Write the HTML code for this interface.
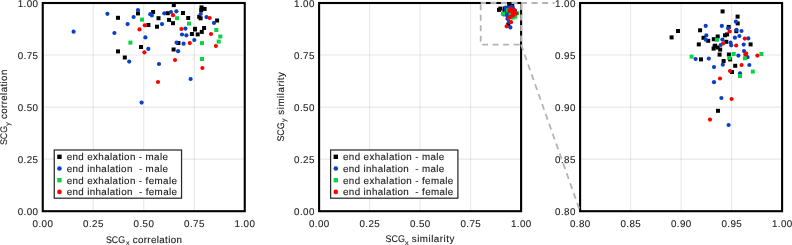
<!DOCTYPE html><html><head><meta charset="utf-8"><style>html,body{margin:0;padding:0;background:#fff;width:792px;height:245px;overflow:hidden}svg{display:block;will-change:transform}text{text-rendering:geometricPrecision;stroke:#1a1a1a;stroke-width:0.12px;font-family:"Liberation Sans",sans-serif;fill:#1a1a1a}</style></head><body>
<svg width="792" height="245" viewBox="0 0 792 245">
<line x1="93.25" y1="3.0" x2="93.25" y2="211.2" stroke="#000" stroke-opacity="0.095" stroke-width="1.1"/>
<line x1="42.75" y1="55.05" x2="244.75" y2="55.05" stroke="#000" stroke-opacity="0.095" stroke-width="1.1"/>
<line x1="143.75" y1="3.0" x2="143.75" y2="211.2" stroke="#000" stroke-opacity="0.095" stroke-width="1.1"/>
<line x1="42.75" y1="107.10" x2="244.75" y2="107.10" stroke="#000" stroke-opacity="0.095" stroke-width="1.1"/>
<line x1="194.25" y1="3.0" x2="194.25" y2="211.2" stroke="#000" stroke-opacity="0.095" stroke-width="1.1"/>
<line x1="42.75" y1="159.15" x2="244.75" y2="159.15" stroke="#000" stroke-opacity="0.095" stroke-width="1.1"/>
<line x1="369.60" y1="3.0" x2="369.60" y2="211.2" stroke="#000" stroke-opacity="0.095" stroke-width="1.1"/>
<line x1="319.1" y1="55.05" x2="521.1" y2="55.05" stroke="#000" stroke-opacity="0.095" stroke-width="1.1"/>
<line x1="420.10" y1="3.0" x2="420.10" y2="211.2" stroke="#000" stroke-opacity="0.095" stroke-width="1.1"/>
<line x1="319.1" y1="107.10" x2="521.1" y2="107.10" stroke="#000" stroke-opacity="0.095" stroke-width="1.1"/>
<line x1="470.60" y1="3.0" x2="470.60" y2="211.2" stroke="#000" stroke-opacity="0.095" stroke-width="1.1"/>
<line x1="319.1" y1="159.15" x2="521.1" y2="159.15" stroke="#000" stroke-opacity="0.095" stroke-width="1.1"/>
<line x1="630.60" y1="3.0" x2="630.60" y2="211.2" stroke="#000" stroke-opacity="0.095" stroke-width="1.1"/>
<line x1="580.1" y1="55.05" x2="782.1" y2="55.05" stroke="#000" stroke-opacity="0.095" stroke-width="1.1"/>
<line x1="681.10" y1="3.0" x2="681.10" y2="211.2" stroke="#000" stroke-opacity="0.095" stroke-width="1.1"/>
<line x1="580.1" y1="107.10" x2="782.1" y2="107.10" stroke="#000" stroke-opacity="0.095" stroke-width="1.1"/>
<line x1="731.60" y1="3.0" x2="731.60" y2="211.2" stroke="#000" stroke-opacity="0.095" stroke-width="1.1"/>
<line x1="580.1" y1="159.15" x2="782.1" y2="159.15" stroke="#000" stroke-opacity="0.095" stroke-width="1.1"/>
<rect x="116.00" y="15.80" width="4.0" height="4.0" fill="#000000"/>
<rect x="136.00" y="11.40" width="4.0" height="4.0" fill="#000000"/>
<rect x="139.00" y="45.00" width="4.0" height="4.0" fill="#000000"/>
<rect x="146.40" y="23.00" width="4.0" height="4.0" fill="#000000"/>
<rect x="151.10" y="10.00" width="4.0" height="4.0" fill="#000000"/>
<rect x="156.50" y="16.20" width="4.0" height="4.0" fill="#000000"/>
<rect x="155.00" y="24.70" width="4.0" height="4.0" fill="#000000"/>
<rect x="171.80" y="3.10" width="4.0" height="4.0" fill="#000000"/>
<rect x="165.80" y="11.20" width="4.0" height="4.0" fill="#000000"/>
<rect x="167.00" y="17.90" width="4.0" height="4.0" fill="#000000"/>
<rect x="171.00" y="21.20" width="4.0" height="4.0" fill="#000000"/>
<rect x="181.00" y="11.00" width="4.0" height="4.0" fill="#000000"/>
<rect x="186.20" y="16.00" width="4.0" height="4.0" fill="#000000"/>
<rect x="193.00" y="27.50" width="4.0" height="4.0" fill="#000000"/>
<rect x="189.90" y="32.00" width="4.0" height="4.0" fill="#000000"/>
<rect x="176.40" y="41.00" width="4.0" height="4.0" fill="#000000"/>
<rect x="195.70" y="32.40" width="4.0" height="4.0" fill="#000000"/>
<rect x="199.80" y="29.90" width="4.0" height="4.0" fill="#000000"/>
<rect x="202.10" y="26.00" width="4.0" height="4.0" fill="#000000"/>
<rect x="199.50" y="5.40" width="4.0" height="4.0" fill="#000000"/>
<rect x="202.60" y="6.90" width="4.0" height="4.0" fill="#000000"/>
<rect x="199.20" y="8.40" width="4.0" height="4.0" fill="#000000"/>
<rect x="197.20" y="14.80" width="4.0" height="4.0" fill="#000000"/>
<rect x="198.60" y="16.30" width="4.0" height="4.0" fill="#000000"/>
<rect x="215.10" y="18.50" width="4.0" height="4.0" fill="#000000"/>
<rect x="116.00" y="49.40" width="4.0" height="4.0" fill="#000000"/>
<rect x="122.80" y="55.50" width="4.0" height="4.0" fill="#000000"/>
<rect x="171.60" y="47.50" width="4.0" height="4.0" fill="#000000"/>
<rect x="193.00" y="26.80" width="4.0" height="4.0" fill="#000000"/>
<circle cx="73.60" cy="31.70" r="2.1" fill="#0a40c6"/>
<circle cx="107.40" cy="13.80" r="2.1" fill="#0a40c6"/>
<circle cx="138.00" cy="10.00" r="2.1" fill="#0a40c6"/>
<circle cx="133.60" cy="17.00" r="2.1" fill="#0a40c6"/>
<circle cx="127.60" cy="24.10" r="2.1" fill="#0a40c6"/>
<circle cx="114.40" cy="33.00" r="2.1" fill="#0a40c6"/>
<circle cx="148.30" cy="48.90" r="2.1" fill="#0a40c6"/>
<circle cx="150.30" cy="14.20" r="2.1" fill="#0a40c6"/>
<circle cx="151.90" cy="15.40" r="2.1" fill="#0a40c6"/>
<circle cx="162.00" cy="24.10" r="2.1" fill="#0a40c6"/>
<circle cx="145.40" cy="37.40" r="2.1" fill="#0a40c6"/>
<circle cx="164.30" cy="13.30" r="2.1" fill="#0a40c6"/>
<circle cx="171.00" cy="12.00" r="2.1" fill="#0a40c6"/>
<circle cx="176.40" cy="11.30" r="2.1" fill="#0a40c6"/>
<circle cx="185.40" cy="28.60" r="2.1" fill="#0a40c6"/>
<circle cx="182.00" cy="34.50" r="2.1" fill="#0a40c6"/>
<circle cx="186.40" cy="35.30" r="2.1" fill="#0a40c6"/>
<circle cx="176.60" cy="42.60" r="2.1" fill="#0a40c6"/>
<circle cx="183.60" cy="43.70" r="2.1" fill="#0a40c6"/>
<circle cx="194.30" cy="40.00" r="2.1" fill="#0a40c6"/>
<circle cx="200.70" cy="14.00" r="2.1" fill="#0a40c6"/>
<circle cx="206.50" cy="17.10" r="2.1" fill="#0a40c6"/>
<circle cx="214.00" cy="22.90" r="2.1" fill="#0a40c6"/>
<circle cx="129.20" cy="61.60" r="2.1" fill="#0a40c6"/>
<circle cx="159.00" cy="64.00" r="2.1" fill="#0a40c6"/>
<circle cx="178.10" cy="51.20" r="2.1" fill="#0a40c6"/>
<circle cx="190.60" cy="79.00" r="2.1" fill="#0a40c6"/>
<circle cx="141.60" cy="102.60" r="2.1" fill="#0a40c6"/>
<rect x="140.00" y="17.60" width="4.0" height="4.0" fill="#06d444"/>
<rect x="128.40" y="40.60" width="4.0" height="4.0" fill="#06d444"/>
<rect x="175.10" y="16.20" width="4.0" height="4.0" fill="#06d444"/>
<rect x="187.00" y="21.60" width="4.0" height="4.0" fill="#06d444"/>
<rect x="200.00" y="41.10" width="4.0" height="4.0" fill="#06d444"/>
<rect x="214.30" y="28.00" width="4.0" height="4.0" fill="#06d444"/>
<rect x="218.30" y="34.50" width="4.0" height="4.0" fill="#06d444"/>
<rect x="216.70" y="39.60" width="4.0" height="4.0" fill="#06d444"/>
<rect x="200.00" y="57.00" width="4.0" height="4.0" fill="#06d444"/>
<circle cx="139.50" cy="29.40" r="2.1" fill="#fc0000"/>
<circle cx="144.80" cy="25.30" r="2.1" fill="#fc0000"/>
<circle cx="173.00" cy="15.20" r="2.1" fill="#fc0000"/>
<circle cx="181.40" cy="29.00" r="2.1" fill="#fc0000"/>
<circle cx="189.80" cy="43.10" r="2.1" fill="#fc0000"/>
<circle cx="209.60" cy="18.00" r="2.1" fill="#fc0000"/>
<circle cx="211.00" cy="34.00" r="2.1" fill="#fc0000"/>
<circle cx="215.90" cy="46.00" r="2.1" fill="#fc0000"/>
<circle cx="144.40" cy="52.30" r="2.1" fill="#fc0000"/>
<circle cx="158.00" cy="82.00" r="2.1" fill="#fc0000"/>
<circle cx="175.00" cy="60.00" r="2.1" fill="#fc0000"/>
<circle cx="202.40" cy="68.00" r="2.1" fill="#fc0000"/>
<rect x="497.00" y="7.88" width="4.0" height="4.0" fill="#000000"/>
<rect x="498.28" y="6.60" width="4.0" height="4.0" fill="#000000"/>
<rect x="502.70" y="6.46" width="4.0" height="4.0" fill="#000000"/>
<rect x="503.38" y="7.96" width="4.0" height="4.0" fill="#000000"/>
<rect x="504.32" y="8.56" width="4.0" height="4.0" fill="#000000"/>
<rect x="502.44" y="9.28" width="4.0" height="4.0" fill="#000000"/>
<rect x="507.20" y="2.68" width="4.0" height="4.0" fill="#000000"/>
<rect x="510.20" y="3.72" width="4.0" height="4.0" fill="#000000"/>
<rect x="510.22" y="5.08" width="4.0" height="4.0" fill="#000000"/>
<rect x="508.42" y="5.78" width="4.0" height="4.0" fill="#000000"/>
<rect x="507.68" y="7.46" width="4.0" height="4.0" fill="#000000"/>
<rect x="508.10" y="7.28" width="4.0" height="4.0" fill="#000000"/>
<rect x="506.22" y="7.70" width="4.0" height="4.0" fill="#000000"/>
<rect x="507.94" y="8.76" width="4.0" height="4.0" fill="#000000"/>
<rect x="512.80" y="9.28" width="4.0" height="4.0" fill="#000000"/>
<rect x="505.72" y="9.54" width="4.0" height="4.0" fill="#000000"/>
<rect x="506.22" y="9.90" width="4.0" height="4.0" fill="#000000"/>
<rect x="505.60" y="9.64" width="4.0" height="4.0" fill="#000000"/>
<rect x="506.72" y="10.32" width="4.0" height="4.0" fill="#000000"/>
<rect x="506.60" y="11.32" width="4.0" height="4.0" fill="#000000"/>
<rect x="508.46" y="11.30" width="4.0" height="4.0" fill="#000000"/>
<rect x="508.70" y="12.28" width="4.0" height="4.0" fill="#000000"/>
<rect x="502.88" y="12.28" width="4.0" height="4.0" fill="#000000"/>
<rect x="507.40" y="12.60" width="4.0" height="4.0" fill="#000000"/>
<rect x="509.72" y="13.56" width="4.0" height="4.0" fill="#000000"/>
<rect x="509.08" y="14.80" width="4.0" height="4.0" fill="#000000"/>
<rect x="506.28" y="22.56" width="4.0" height="4.0" fill="#000000"/>
<rect x="505.44" y="8.24" width="4.0" height="4.0" fill="#000000"/>
<rect x="505.40" y="10.12" width="4.0" height="4.0" fill="#000000"/>
<rect x="509.94" y="6.64" width="4.0" height="4.0" fill="#000000"/>
<circle cx="505.82" cy="7.58" r="2.1" fill="#0a40c6"/>
<circle cx="505.94" cy="9.48" r="2.1" fill="#0a40c6"/>
<circle cx="505.80" cy="10.32" r="2.1" fill="#0a40c6"/>
<circle cx="509.04" cy="7.58" r="2.1" fill="#0a40c6"/>
<circle cx="511.86" cy="6.74" r="2.1" fill="#0a40c6"/>
<circle cx="510.30" cy="8.06" r="2.1" fill="#0a40c6"/>
<circle cx="511.98" cy="8.36" r="2.1" fill="#0a40c6"/>
<circle cx="512.98" cy="8.60" r="2.1" fill="#0a40c6"/>
<circle cx="511.66" cy="9.94" r="2.1" fill="#0a40c6"/>
<circle cx="512.56" cy="9.60" r="2.1" fill="#0a40c6"/>
<circle cx="514.34" cy="10.08" r="2.1" fill="#0a40c6"/>
<circle cx="509.16" cy="10.30" r="2.1" fill="#0a40c6"/>
<circle cx="508.82" cy="11.40" r="2.1" fill="#0a40c6"/>
<circle cx="510.80" cy="10.94" r="2.1" fill="#0a40c6"/>
<circle cx="510.92" cy="11.46" r="2.1" fill="#0a40c6"/>
<circle cx="513.42" cy="11.32" r="2.1" fill="#0a40c6"/>
<circle cx="513.48" cy="12.62" r="2.1" fill="#0a40c6"/>
<circle cx="512.36" cy="13.52" r="2.1" fill="#0a40c6"/>
<circle cx="514.18" cy="13.84" r="2.1" fill="#0a40c6"/>
<circle cx="506.44" cy="14.12" r="2.1" fill="#0a40c6"/>
<circle cx="503.80" cy="14.20" r="2.1" fill="#0a40c6"/>
<circle cx="509.24" cy="15.34" r="2.1" fill="#0a40c6"/>
<circle cx="507.48" cy="15.82" r="2.1" fill="#0a40c6"/>
<circle cx="514.54" cy="15.40" r="2.1" fill="#0a40c6"/>
<circle cx="507.48" cy="18.84" r="2.1" fill="#0a40c6"/>
<circle cx="508.96" cy="22.00" r="2.1" fill="#0a40c6"/>
<circle cx="510.40" cy="27.40" r="2.1" fill="#0a40c6"/>
<circle cx="512.68" cy="17.08" r="2.1" fill="#0a40c6"/>
<rect x="506.06" y="8.36" width="4.0" height="4.0" fill="#06d444"/>
<rect x="509.42" y="11.20" width="4.0" height="4.0" fill="#06d444"/>
<rect x="508.54" y="11.98" width="4.0" height="4.0" fill="#06d444"/>
<rect x="511.66" y="12.06" width="4.0" height="4.0" fill="#06d444"/>
<rect x="501.00" y="11.72" width="4.0" height="4.0" fill="#06d444"/>
<rect x="510.68" y="15.60" width="4.0" height="4.0" fill="#06d444"/>
<rect x="513.24" y="14.72" width="4.0" height="4.0" fill="#06d444"/>
<rect x="514.96" y="11.20" width="4.0" height="4.0" fill="#06d444"/>
<circle cx="510.62" cy="8.70" r="2.1" fill="#fc0000"/>
<circle cx="513.64" cy="10.12" r="2.1" fill="#fc0000"/>
<circle cx="509.30" cy="11.08" r="2.1" fill="#fc0000"/>
<circle cx="511.92" cy="11.50" r="2.1" fill="#fc0000"/>
<circle cx="513.92" cy="13.08" r="2.1" fill="#fc0000"/>
<circle cx="513.74" cy="13.30" r="2.1" fill="#fc0000"/>
<circle cx="513.00" cy="15.40" r="2.1" fill="#fc0000"/>
<circle cx="510.68" cy="16.60" r="2.1" fill="#fc0000"/>
<circle cx="516.16" cy="13.52" r="2.1" fill="#fc0000"/>
<circle cx="508.68" cy="18.10" r="2.1" fill="#fc0000"/>
<circle cx="511.00" cy="22.20" r="2.1" fill="#fc0000"/>
<circle cx="506.68" cy="26.32" r="2.1" fill="#fc0000"/>
<rect x="669.60" y="35.40" width="4.0" height="4.0" fill="#000000"/>
<rect x="676.00" y="29.00" width="4.0" height="4.0" fill="#000000"/>
<rect x="698.10" y="28.30" width="4.0" height="4.0" fill="#000000"/>
<rect x="701.50" y="35.80" width="4.0" height="4.0" fill="#000000"/>
<rect x="706.20" y="38.80" width="4.0" height="4.0" fill="#000000"/>
<rect x="696.80" y="42.40" width="4.0" height="4.0" fill="#000000"/>
<rect x="720.60" y="9.40" width="4.0" height="4.0" fill="#000000"/>
<rect x="735.60" y="14.60" width="4.0" height="4.0" fill="#000000"/>
<rect x="735.70" y="21.40" width="4.0" height="4.0" fill="#000000"/>
<rect x="726.70" y="24.90" width="4.0" height="4.0" fill="#000000"/>
<rect x="723.00" y="33.30" width="4.0" height="4.0" fill="#000000"/>
<rect x="725.10" y="32.40" width="4.0" height="4.0" fill="#000000"/>
<rect x="715.70" y="34.50" width="4.0" height="4.0" fill="#000000"/>
<rect x="724.30" y="39.80" width="4.0" height="4.0" fill="#000000"/>
<rect x="748.60" y="42.40" width="4.0" height="4.0" fill="#000000"/>
<rect x="713.20" y="43.70" width="4.0" height="4.0" fill="#000000"/>
<rect x="715.70" y="45.50" width="4.0" height="4.0" fill="#000000"/>
<rect x="712.60" y="44.20" width="4.0" height="4.0" fill="#000000"/>
<rect x="718.20" y="47.60" width="4.0" height="4.0" fill="#000000"/>
<rect x="717.60" y="52.60" width="4.0" height="4.0" fill="#000000"/>
<rect x="726.90" y="52.50" width="4.0" height="4.0" fill="#000000"/>
<rect x="728.10" y="57.40" width="4.0" height="4.0" fill="#000000"/>
<rect x="699.00" y="57.40" width="4.0" height="4.0" fill="#000000"/>
<rect x="721.60" y="59.00" width="4.0" height="4.0" fill="#000000"/>
<rect x="733.20" y="63.80" width="4.0" height="4.0" fill="#000000"/>
<rect x="730.00" y="70.00" width="4.0" height="4.0" fill="#000000"/>
<rect x="716.00" y="108.80" width="4.0" height="4.0" fill="#000000"/>
<rect x="711.80" y="37.20" width="4.0" height="4.0" fill="#000000"/>
<rect x="711.60" y="46.60" width="4.0" height="4.0" fill="#000000"/>
<rect x="734.30" y="29.20" width="4.0" height="4.0" fill="#000000"/>
<circle cx="705.70" cy="25.90" r="2.1" fill="#0a40c6"/>
<circle cx="706.30" cy="35.40" r="2.1" fill="#0a40c6"/>
<circle cx="705.60" cy="39.60" r="2.1" fill="#0a40c6"/>
<circle cx="721.80" cy="25.90" r="2.1" fill="#0a40c6"/>
<circle cx="735.90" cy="21.70" r="2.1" fill="#0a40c6"/>
<circle cx="728.10" cy="28.30" r="2.1" fill="#0a40c6"/>
<circle cx="736.50" cy="29.80" r="2.1" fill="#0a40c6"/>
<circle cx="741.50" cy="31.00" r="2.1" fill="#0a40c6"/>
<circle cx="734.90" cy="37.70" r="2.1" fill="#0a40c6"/>
<circle cx="739.40" cy="36.00" r="2.1" fill="#0a40c6"/>
<circle cx="748.30" cy="38.40" r="2.1" fill="#0a40c6"/>
<circle cx="722.40" cy="39.50" r="2.1" fill="#0a40c6"/>
<circle cx="720.70" cy="45.00" r="2.1" fill="#0a40c6"/>
<circle cx="730.60" cy="42.70" r="2.1" fill="#0a40c6"/>
<circle cx="731.20" cy="45.30" r="2.1" fill="#0a40c6"/>
<circle cx="743.70" cy="44.60" r="2.1" fill="#0a40c6"/>
<circle cx="744.00" cy="51.10" r="2.1" fill="#0a40c6"/>
<circle cx="738.40" cy="55.60" r="2.1" fill="#0a40c6"/>
<circle cx="747.50" cy="57.20" r="2.1" fill="#0a40c6"/>
<circle cx="708.80" cy="58.60" r="2.1" fill="#0a40c6"/>
<circle cx="695.60" cy="59.00" r="2.1" fill="#0a40c6"/>
<circle cx="722.80" cy="64.70" r="2.1" fill="#0a40c6"/>
<circle cx="714.00" cy="67.10" r="2.1" fill="#0a40c6"/>
<circle cx="749.30" cy="65.00" r="2.1" fill="#0a40c6"/>
<circle cx="714.00" cy="82.20" r="2.1" fill="#0a40c6"/>
<circle cx="721.40" cy="98.00" r="2.1" fill="#0a40c6"/>
<circle cx="728.60" cy="125.00" r="2.1" fill="#0a40c6"/>
<circle cx="740.00" cy="73.40" r="2.1" fill="#0a40c6"/>
<rect x="714.90" y="37.80" width="4.0" height="4.0" fill="#06d444"/>
<rect x="731.70" y="52.00" width="4.0" height="4.0" fill="#06d444"/>
<rect x="727.30" y="55.90" width="4.0" height="4.0" fill="#06d444"/>
<rect x="742.90" y="56.30" width="4.0" height="4.0" fill="#06d444"/>
<rect x="689.60" y="54.60" width="4.0" height="4.0" fill="#06d444"/>
<rect x="738.00" y="74.00" width="4.0" height="4.0" fill="#06d444"/>
<rect x="750.80" y="69.60" width="4.0" height="4.0" fill="#06d444"/>
<rect x="759.40" y="52.00" width="4.0" height="4.0" fill="#06d444"/>
<circle cx="729.70" cy="31.50" r="2.1" fill="#fc0000"/>
<circle cx="744.80" cy="38.60" r="2.1" fill="#fc0000"/>
<circle cx="723.10" cy="43.40" r="2.1" fill="#fc0000"/>
<circle cx="736.20" cy="45.50" r="2.1" fill="#fc0000"/>
<circle cx="746.20" cy="53.40" r="2.1" fill="#fc0000"/>
<circle cx="745.30" cy="54.50" r="2.1" fill="#fc0000"/>
<circle cx="741.60" cy="65.00" r="2.1" fill="#fc0000"/>
<circle cx="730.00" cy="71.00" r="2.1" fill="#fc0000"/>
<circle cx="757.40" cy="55.60" r="2.1" fill="#fc0000"/>
<circle cx="720.00" cy="78.50" r="2.1" fill="#fc0000"/>
<circle cx="731.60" cy="99.00" r="2.1" fill="#fc0000"/>
<circle cx="710.00" cy="119.60" r="2.1" fill="#fc0000"/>
<rect x="42.75" y="3.0" width="202.0" height="208.2" fill="none" stroke="#000" stroke-width="2.1"/>
<rect x="319.1" y="3.0" width="202.0" height="208.2" fill="none" stroke="#000" stroke-width="2.1"/>
<rect x="580.1" y="3.0" width="202.0" height="208.2" fill="none" stroke="#000" stroke-width="2.1"/>
<path d="M480.70,44.64 L521.10,44.64" fill="none" stroke="#b4b4b4" stroke-width="1.8" stroke-dasharray="6 4.5" stroke-dashoffset="9.1"/>
<path d="M521.10,44.64 L521.10,3.00" fill="none" stroke="#b4b4b4" stroke-width="1.8" stroke-dasharray="6 4.5" stroke-dashoffset="7.25"/>
<path d="M480.70,3.00 L521.10,3.00" fill="none" stroke="#b4b4b4" stroke-width="1.8" stroke-dasharray="6 4.5" stroke-dashoffset="0.75"/>
<path d="M480.70,3.00 L480.70,44.64" fill="none" stroke="#b4b4b4" stroke-width="1.8" stroke-dasharray="6 4.5" stroke-dashoffset="9.2"/>
<path d="M521.10,3.00 L554.5,3.00" fill="none" stroke="#b4b4b4" stroke-width="1.8" stroke-dasharray="6 4.5" stroke-dashoffset="0"/>
<path d="M521.10,44.64 L580.10,211.20" fill="none" stroke="#b4b4b4" stroke-width="1.8" stroke-dasharray="6 4.5"/>
<text x="38.05" y="214.70" text-anchor="end" font-size="9.8" textLength="20.4" lengthAdjust="spacing" style="stroke-width:0.1px">0.00</text>
<text x="42.75" y="227.10" text-anchor="middle" font-size="9.8" textLength="20.4" lengthAdjust="spacing" style="stroke-width:0.1px">0.00</text>
<text x="38.05" y="162.65" text-anchor="end" font-size="9.8" textLength="20.4" lengthAdjust="spacing" style="stroke-width:0.1px">0.25</text>
<text x="93.25" y="227.10" text-anchor="middle" font-size="9.8" textLength="20.4" lengthAdjust="spacing" style="stroke-width:0.1px">0.25</text>
<text x="38.05" y="110.60" text-anchor="end" font-size="9.8" textLength="20.4" lengthAdjust="spacing" style="stroke-width:0.1px">0.50</text>
<text x="143.75" y="227.10" text-anchor="middle" font-size="9.8" textLength="20.4" lengthAdjust="spacing" style="stroke-width:0.1px">0.50</text>
<text x="38.05" y="58.55" text-anchor="end" font-size="9.8" textLength="20.4" lengthAdjust="spacing" style="stroke-width:0.1px">0.75</text>
<text x="194.25" y="227.10" text-anchor="middle" font-size="9.8" textLength="20.4" lengthAdjust="spacing" style="stroke-width:0.1px">0.75</text>
<text x="38.05" y="6.50" text-anchor="end" font-size="9.8" textLength="20.4" lengthAdjust="spacing" style="stroke-width:0.1px">1.00</text>
<text x="244.75" y="227.10" text-anchor="middle" font-size="9.8" textLength="20.4" lengthAdjust="spacing" style="stroke-width:0.1px">1.00</text>
<text x="314.40" y="214.70" text-anchor="end" font-size="9.8" textLength="20.4" lengthAdjust="spacing" style="stroke-width:0.1px">0.00</text>
<text x="319.10" y="227.10" text-anchor="middle" font-size="9.8" textLength="20.4" lengthAdjust="spacing" style="stroke-width:0.1px">0.00</text>
<text x="314.40" y="162.65" text-anchor="end" font-size="9.8" textLength="20.4" lengthAdjust="spacing" style="stroke-width:0.1px">0.25</text>
<text x="369.60" y="227.10" text-anchor="middle" font-size="9.8" textLength="20.4" lengthAdjust="spacing" style="stroke-width:0.1px">0.25</text>
<text x="314.40" y="110.60" text-anchor="end" font-size="9.8" textLength="20.4" lengthAdjust="spacing" style="stroke-width:0.1px">0.50</text>
<text x="420.10" y="227.10" text-anchor="middle" font-size="9.8" textLength="20.4" lengthAdjust="spacing" style="stroke-width:0.1px">0.50</text>
<text x="314.40" y="58.55" text-anchor="end" font-size="9.8" textLength="20.4" lengthAdjust="spacing" style="stroke-width:0.1px">0.75</text>
<text x="470.60" y="227.10" text-anchor="middle" font-size="9.8" textLength="20.4" lengthAdjust="spacing" style="stroke-width:0.1px">0.75</text>
<text x="314.40" y="6.50" text-anchor="end" font-size="9.8" textLength="20.4" lengthAdjust="spacing" style="stroke-width:0.1px">1.00</text>
<text x="521.10" y="227.10" text-anchor="middle" font-size="9.8" textLength="20.4" lengthAdjust="spacing" style="stroke-width:0.1px">1.00</text>
<text x="575.40" y="214.70" text-anchor="end" font-size="9.8" textLength="20.4" lengthAdjust="spacing" style="stroke-width:0.1px">0.80</text>
<text x="580.10" y="227.10" text-anchor="middle" font-size="9.8" textLength="20.4" lengthAdjust="spacing" style="stroke-width:0.1px">0.80</text>
<text x="575.40" y="162.65" text-anchor="end" font-size="9.8" textLength="20.4" lengthAdjust="spacing" style="stroke-width:0.1px">0.85</text>
<text x="630.60" y="227.10" text-anchor="middle" font-size="9.8" textLength="20.4" lengthAdjust="spacing" style="stroke-width:0.1px">0.85</text>
<text x="575.40" y="110.60" text-anchor="end" font-size="9.8" textLength="20.4" lengthAdjust="spacing" style="stroke-width:0.1px">0.90</text>
<text x="681.10" y="227.10" text-anchor="middle" font-size="9.8" textLength="20.4" lengthAdjust="spacing" style="stroke-width:0.1px">0.90</text>
<text x="575.40" y="58.55" text-anchor="end" font-size="9.8" textLength="20.4" lengthAdjust="spacing" style="stroke-width:0.1px">0.95</text>
<text x="731.60" y="227.10" text-anchor="middle" font-size="9.8" textLength="20.4" lengthAdjust="spacing" style="stroke-width:0.1px">0.95</text>
<text x="575.40" y="6.50" text-anchor="end" font-size="9.8" textLength="20.4" lengthAdjust="spacing" style="stroke-width:0.1px">1.00</text>
<text x="782.10" y="227.10" text-anchor="middle" font-size="9.8" textLength="20.4" lengthAdjust="spacing" style="stroke-width:0.1px">1.00</text>
<text x="105.90" y="242.80" font-size="9.6" textLength="19.20" lengthAdjust="spacingAndGlyphs">SCG</text>
<text x="125.90" y="245.10" font-size="6.6" textLength="3.50" lengthAdjust="spacingAndGlyphs">x</text>
<text x="132.70" y="242.80" font-size="9.8" textLength="49.20" lengthAdjust="spacing">correlation</text>
<text x="385.50" y="242.30" font-size="9.6" textLength="19.40" lengthAdjust="spacingAndGlyphs">SCG</text>
<text x="404.90" y="244.60" font-size="6.6" textLength="3.60" lengthAdjust="spacingAndGlyphs">x</text>
<text x="411.80" y="242.30" font-size="9.8" textLength="42.50" lengthAdjust="spacing">similarity</text>
<g transform="rotate(-90)">
<text x="-145.10" y="7.40" font-size="9.6" textLength="19.20" lengthAdjust="spacingAndGlyphs">SCG</text>
<text x="-125.70" y="9.70" font-size="6.6" textLength="3.50" lengthAdjust="spacingAndGlyphs">y</text>
<text x="-119.10" y="7.40" font-size="9.8" textLength="49.50" lengthAdjust="spacing">correlation</text>
</g>
<g transform="rotate(-90)">
<text x="-141.60" y="283.70" font-size="9.6" textLength="19.30" lengthAdjust="spacingAndGlyphs">SCG</text>
<text x="-122.10" y="286.00" font-size="6.6" textLength="3.50" lengthAdjust="spacingAndGlyphs">y</text>
<text x="-114.70" y="283.70" font-size="9.8" textLength="42.70" lengthAdjust="spacing">similarity</text>
</g>
<rect x="54.25" y="150.0" width="127.30" height="48.20" fill="#fff" stroke="#2a2a2a" stroke-width="1.25"/>
<rect x="57.25" y="154.60" width="4.4" height="4.4" fill="#000000"/>
<text x="66.65" y="160.10" text-anchor="start" font-size="9.8" textLength="101.3" lengthAdjust="spacing" xml:space="preserve">end exhalation - male</text>
<circle cx="59.45" cy="168.50" r="2.3" fill="#0a40c6"/>
<text x="66.65" y="171.80" text-anchor="start" font-size="9.8" textLength="101.3" lengthAdjust="spacing" xml:space="preserve">end inhalation&#160; - male</text>
<rect x="57.25" y="178.00" width="4.4" height="4.4" fill="#06d444"/>
<text x="66.65" y="183.50" text-anchor="start" font-size="9.8" textLength="110.3" lengthAdjust="spacing" xml:space="preserve">end exhalation - female</text>
<circle cx="59.45" cy="191.90" r="2.3" fill="#fc0000"/>
<text x="66.65" y="195.20" text-anchor="start" font-size="9.8" textLength="110.3" lengthAdjust="spacing" xml:space="preserve">end inhalation&#160; - female</text>
<rect x="330.60" y="150.0" width="127.30" height="48.20" fill="#fff" stroke="#2a2a2a" stroke-width="1.25"/>
<rect x="333.60" y="154.60" width="4.4" height="4.4" fill="#000000"/>
<text x="343.00" y="160.10" text-anchor="start" font-size="9.8" textLength="101.3" lengthAdjust="spacing" xml:space="preserve">end exhalation - male</text>
<circle cx="335.80" cy="168.50" r="2.3" fill="#0a40c6"/>
<text x="343.00" y="171.80" text-anchor="start" font-size="9.8" textLength="101.3" lengthAdjust="spacing" xml:space="preserve">end inhalation&#160; - male</text>
<rect x="333.60" y="178.00" width="4.4" height="4.4" fill="#06d444"/>
<text x="343.00" y="183.50" text-anchor="start" font-size="9.8" textLength="110.3" lengthAdjust="spacing" xml:space="preserve">end exhalation - female</text>
<circle cx="335.80" cy="191.90" r="2.3" fill="#fc0000"/>
<text x="343.00" y="195.20" text-anchor="start" font-size="9.8" textLength="110.3" lengthAdjust="spacing" xml:space="preserve">end inhalation&#160; - female</text>
</svg></body></html>
